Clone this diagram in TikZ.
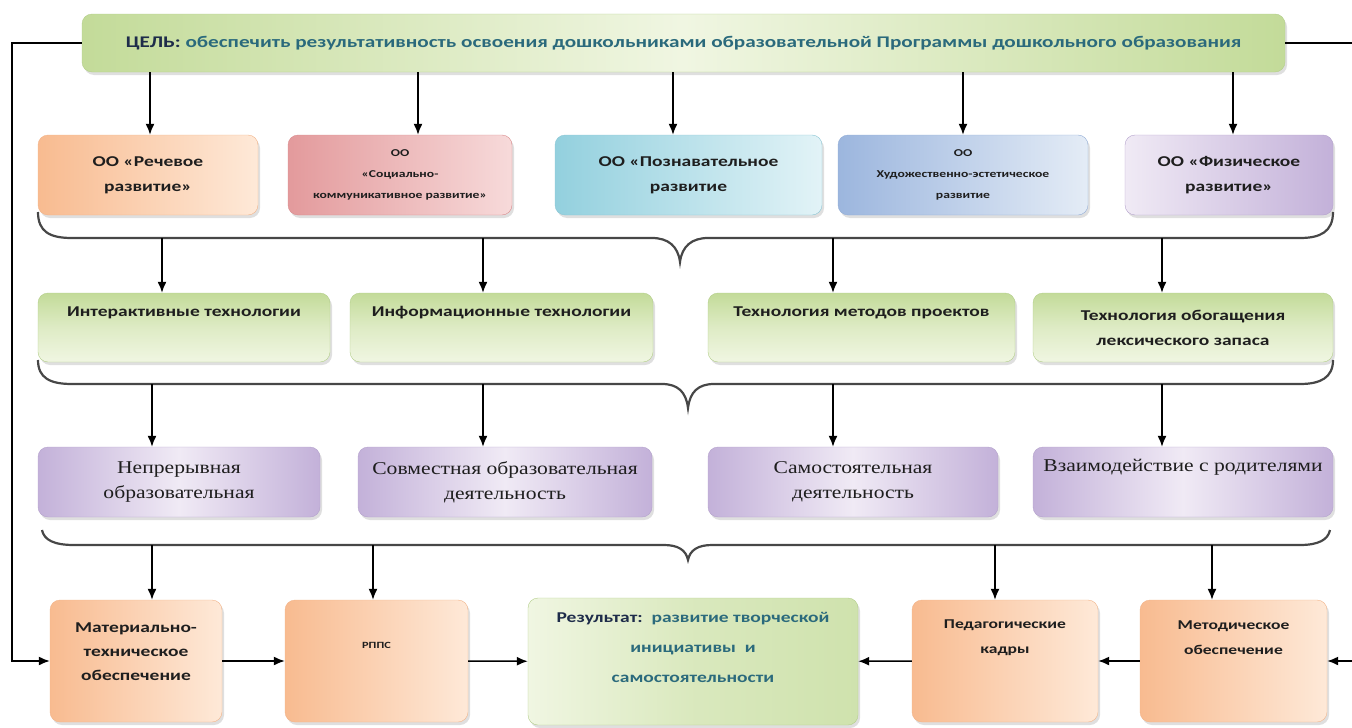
\documentclass[tikz,border=0pt]{standalone}
\usepackage{fontspec}
\setmainfont{Carlito}[FakeStretch=1.3]
\newfontfamily\timesrm{Liberation Serif}[FakeStretch=1.2]
\usetikzlibrary{shadows,arrows.meta}

\definecolor{orgL}{HTML}{FEE9D8}
\definecolor{orgD}{HTML}{F8BB90}
\definecolor{orgB}{HTML}{F2B48A}
\definecolor{pnkL}{HTML}{F7DADA}
\definecolor{pnkD}{HTML}{E39A9C}
\definecolor{pnkB}{HTML}{D98C8E}
\definecolor{cynL}{HTML}{E2F3F7}
\definecolor{cynD}{HTML}{93D0DE}
\definecolor{cynB}{HTML}{8CC6D4}
\definecolor{bluL}{HTML}{E4ECF6}
\definecolor{bluD}{HTML}{9CB6DE}
\definecolor{bluB}{HTML}{93ADD6}
\definecolor{purL}{HTML}{F0EAF5}
\definecolor{purD}{HTML}{C3B1D9}
\definecolor{purB}{HTML}{B4A2CC}
\definecolor{grnL}{HTML}{F0F6E2}
\definecolor{grnD}{HTML}{C3DB99}
\definecolor{grnB}{HTML}{B3CE8A}
\definecolor{navy}{HTML}{1E2C4A}
\definecolor{tealx}{HTML}{2B6A7C}
\definecolor{ink}{HTML}{1E1E1E}

\begin{document}
\begin{tikzpicture}[x=1pt, y=-1pt, font=\bfseries\fontsize{15}{25}\selectfont,
  box/.style = {rounded corners=10pt, align=center, inner sep=2pt, text=ink,
                drop shadow={opacity=0.25, shadow xshift=2pt, shadow yshift=-3pt}},
  org/.style = {box, draw=orgB, left color=orgD, right color=orgL},
  pnk/.style = {box, draw=pnkB, left color=pnkD, right color=pnkL},
  cyn/.style = {box, draw=cynB, left color=cynD, right color=cynL},
  blu/.style = {box, draw=bluB, left color=bluD, right color=bluL},
  pur/.style = {box, draw=purB, left color=purL, right color=purD},
  grn/.style = {box, draw=grnB, top color=grnD, bottom color=grnL, middle color=grnL!60!grnD},
  form/.style = {box, draw=purB, left color=purD, right color=purD, middle color=purL,
                 font=\timesrm\fontsize{18}{25}\selectfont},
  small/.style = {font=\bfseries\fontsize{10.5}{21}\selectfont},
  lbl/.style = {align=center, text=ink, inner sep=1pt},
  brc/.style = {line width=2.2pt, draw=black!72},
  arr/.style = {-{Latex[length=11pt,width=9pt]}, line width=1.5pt}]

\useasboundingbox (0,0) rectangle (1352,728);

% goal
\node[grn, minimum width=1203, minimum height=58, left color=grnD, right color=grnD, middle color=grnL,
      font=\bfseries\fontsize{16.3}{25}\selectfont] (goal) at (683.5,43)
  {\textcolor{navy}{ЦЕЛЬ:} \textcolor{tealx}{обеспечить результативность освоения дошкольниками образовательной Программы дошкольного образования}};

% educational areas
\node[org, minimum width=220, minimum height=80] (oo1) at (148,175) {ОО «Речевое\\развитие»};
\node[pnk, minimum width=224, minimum height=80, small] (oo2) at (400,175) {ОО\\«Социально-\\коммуникативное развитие»};
\node[cyn, minimum width=267, minimum height=80] (oo3) at (688.5,175) {ОО «Познавательное\\развитие};
\node[blu, minimum width=250, minimum height=80, small] (oo4) at (963,175) {ОО\\Художественно-эстетическое\\развитие};
\node[pur, minimum width=208, minimum height=80] (oo5) at (1229,175) {ОО «Физическое\\развитие»};

% technologies
\node[grn, minimum width=292, minimum height=69] (t1) at (184,327.5) {Интерактивные технологии\\\strut};
\node[grn, minimum width=303, minimum height=69] (t2) at (501.5,327.5) {Информационные технологии\\\strut};
\node[grn, minimum width=307, minimum height=69] (t3) at (861.5,327.5) {Технология методов проектов\\\strut};
\node[grn, minimum width=300, minimum height=69] (t4) at (1183,327.5) {Технология обогащения\\лексического запаса};

% forms of work
\node[form, minimum width=282, minimum height=70] (f1) at (179,482) {Непрерывная\\образовательная};
\node[form, minimum width=294, minimum height=70] (f2) at (505,482) {Совместная образовательная\\деятельность};
\node[form, minimum width=290, minimum height=70] (f3) at (853,482) {Самостоятельная\\деятельность};
\node[form, minimum width=300, minimum height=70] (f4) at (1183,482) {Взаимодействие с родителями\\\strut};

% conditions and result
\node[org, minimum width=172, minimum height=122] (mat) at (136,661) {};
\node[org, minimum width=183, minimum height=122] (rpps) at (376.5,661) {};
\node[grn, minimum width=330, minimum height=127, left color=grnL, right color=grnD!80, middle color=grnL!50!grnD] (res) at (693,661.5) {};
\node[org, minimum width=186, minimum height=122] (ped) at (1005,661) {};
\node[org, minimum width=187, minimum height=122] (met) at (1233.5,661) {};
\node[lbl, font=\bfseries\fontsize{15}{24}\selectfont] (matT) at ([yshift=9pt]mat.center) {Материально-\\техническое\\обеспечение};
\node[lbl, font=\bfseries\fontsize{9.5}{20}\selectfont] (rppsT) at ([yshift=16pt]rpps.center) {РППС};
\node[lbl, font=\bfseries\fontsize{15}{30}\selectfont] (resT) at ([yshift=14pt]res.center)
  {\textcolor{navy}{Результат:}\ \ \textcolor{tealx}{развитие творческой}\\\textcolor{tealx}{инициативы\ \ и}\\\textcolor{tealx}{самостоятельности}};
\node[lbl, font=\bfseries\fontsize{13.5}{25}\selectfont] (pedT) at ([yshift=23pt]ped.center) {Педагогические\\кадры};
\node[lbl, font=\bfseries\fontsize{13.5}{25}\selectfont] (metT) at ([yshift=23pt]met.center) {Методическое\\обеспечение};

% braces
\draw[brc] (38,212) .. controls (38,232) and (50,238) .. (72,238) -- (652,238)
  .. controls (668,238) and (678,246) .. (680,262) .. controls (682,246) and (692,238) .. (708,238)
  -- (1300,238) .. controls (1320,238) and (1333,232) .. (1333,212);
\draw[brc] (38,360) .. controls (38,378) and (50,384) .. (72,384) -- (662,384)
  .. controls (678,384) and (686,392) .. (688,408) .. controls (690,392) and (698,384) .. (714,384)
  -- (1300,384) .. controls (1320,384) and (1333,378) .. (1333,360);
\draw[brc] (42,530) .. controls (44,540) and (54,545) .. (74,545) -- (664,545)
  .. controls (678,545) and (686,550) .. (688,560) .. controls (690,550) and (698,545) .. (712,545)
  -- (1300,545) .. controls (1318,545) and (1328,540) .. (1330,530);

\coordinate (g1) at (150,0);
\coordinate (g2) at (418,0);
\coordinate (g3) at (673,0);
\coordinate (g4) at (963,0);
\coordinate (g5) at (1233,0);
\coordinate (k1) at (162,238);
\coordinate (k2) at (483,238);
\coordinate (k3) at (833,238);
\coordinate (k4) at (1162,238);
\coordinate (m1) at (152,384);
\coordinate (m2) at (483,384);
\coordinate (m3) at (833,384);
\coordinate (m4) at (1162,384);
\coordinate (n1) at (152,545);
\coordinate (n2) at (373,545);
\coordinate (n3) at (995,545);
\coordinate (n4) at (1212,545);
\coordinate (lft) at (12,0);
\coordinate (rgt) at (1354,0);

% arrows
\draw[arr] (goal.south -| g1) -- (g1 |- oo1.north);
\draw[arr] (goal.south -| g2) -- (g2 |- oo2.north);
\draw[arr] (goal.south -| g3) -- (g3 |- oo3.north);
\draw[arr] (goal.south -| g4) -- (g4 |- oo4.north);
\draw[arr] (goal.south -| g5) -- (g5 |- oo5.north);

\draw[arr] (k1) -- (k1 |- t1.north);
\draw[arr] (k2) -- (k2 |- t2.north);
\draw[arr] (k3) -- (k3 |- t3.north);
\draw[arr] (k4) -- (k4 |- t4.north);

\draw[arr] (m1) -- (m1 |- f1.north);
\draw[arr] (m2) -- (m2 |- f2.north);
\draw[arr] (m3) -- (m3 |- f3.north);
\draw[arr] (m4) -- (m4 |- f4.north);

\draw[arr] (n1) -- (n1 |- mat.north);
\draw[arr] (n2) -- (n2 |- rpps.north);
\draw[arr] (n3) -- (n3 |- ped.north);
\draw[arr] (n4) -- (n4 |- met.north);

\draw[arr] (mat) -- (rpps);
\draw[arr] (rpps) -- (res);
\draw[arr] (ped) -- (res);
\draw[arr] (met) -- (ped);

\draw[arr] (goal.west) -- (goal.west -| lft) |- (mat.west);
\draw[arr] (goal.east) -- (goal.east -| rgt) |- (met.east);

\end{tikzpicture}
\end{document}
